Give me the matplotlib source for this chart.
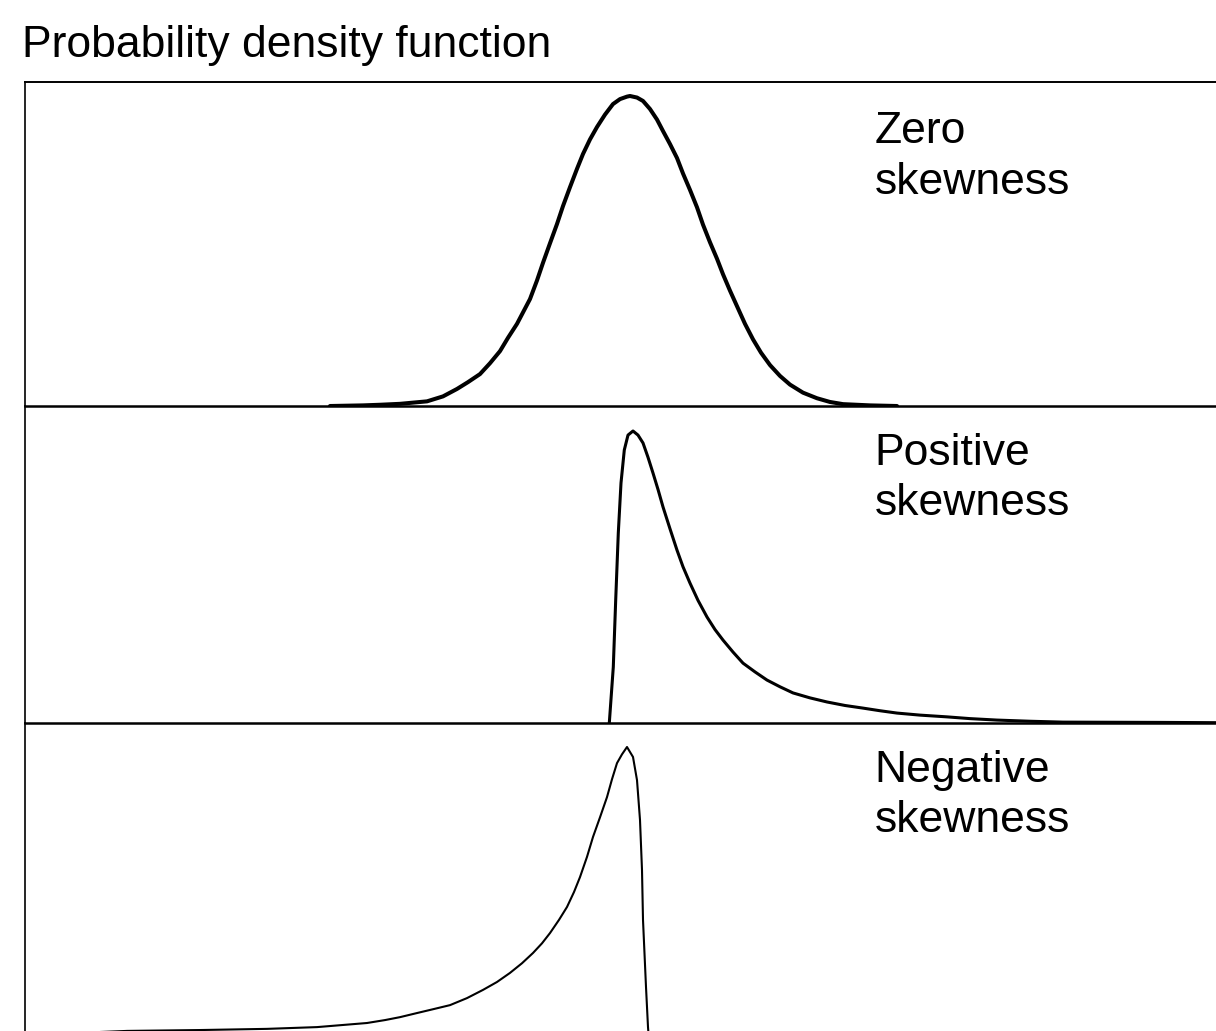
import matplotlib
matplotlib.use("Agg")
import matplotlib.pyplot as plt

plt.rcParams["font.family"] = ["Liberation Sans", "DejaVu Sans"]

# curves: x in arbitrary units (peak of the normal curve at 0),
# y as a fraction of each curve's own peak height
zero_x = [-3.00, -2.67, -2.50, -2.30, -2.03, -1.87, -1.73, -1.62, -1.50, -1.40,
          -1.30, -1.22, -1.13, -1.00, -0.93, -0.87, -0.80, -0.73, -0.67, -0.60,
          -0.53, -0.47, -0.40, -0.33, -0.25, -0.17, -0.10, -0.03, 0.00, 0.07,
          0.13, 0.20, 0.27, 0.33, 0.40, 0.47, 0.53, 0.60, 0.67, 0.73,
          0.80, 0.87, 0.93, 1.00, 1.07, 1.15, 1.23, 1.31, 1.40, 1.50,
          1.60, 1.73, 1.87, 2.00, 2.13, 2.40, 2.67]
zero_y = [0.000, 0.002, 0.004, 0.007, 0.015, 0.031, 0.055, 0.077, 0.103, 0.138,
          0.177, 0.220, 0.265, 0.345, 0.405, 0.462, 0.525, 0.587, 0.645, 0.706,
          0.765, 0.813, 0.860, 0.900, 0.940, 0.974, 0.990, 0.998, 1.000, 0.995,
          0.984, 0.958, 0.924, 0.887, 0.845, 0.800, 0.750, 0.697, 0.641, 0.585,
          0.528, 0.475, 0.425, 0.372, 0.322, 0.265, 0.215, 0.172, 0.132, 0.097,
          0.069, 0.043, 0.025, 0.013, 0.006, 0.002, 0.000]

pos_x = [-0.207, -0.167, -0.143, -0.117, -0.090, -0.057, -0.020, 0.030, 0.080, 0.130,
         0.180, 0.230, 0.280, 0.330, 0.400, 0.470, 0.530, 0.600, 0.680, 0.770,
         0.850, 0.930, 1.030, 1.130, 1.250, 1.370, 1.500, 1.630, 1.800, 1.970,
         2.150, 2.330, 2.500, 2.670, 2.900, 3.170, 3.400, 3.670, 4.000, 4.330,
         5.330, 5.900]
pos_y = [0.000, 0.192, 0.421, 0.651, 0.822, 0.935, 0.986, 1.000, 0.986, 0.959,
         0.910, 0.856, 0.800, 0.740, 0.665, 0.592, 0.535, 0.479, 0.420, 0.363,
         0.320, 0.284, 0.243, 0.205, 0.175, 0.147, 0.124, 0.103, 0.086, 0.072,
         0.060, 0.051, 0.042, 0.034, 0.027, 0.021, 0.015, 0.010, 0.006, 0.003,
         0.002, 0.001]

neg_x = [-6.05, -5.03, -4.30, -3.63, -3.13, -2.63, -2.45, -2.30, -2.13, -1.97,
         -1.80, -1.63, -1.47, -1.33, -1.20, -1.08, -0.97, -0.88, -0.80, -0.71,
         -0.63, -0.56, -0.50, -0.43, -0.37, -0.30, -0.23, -0.18, -0.13, -0.08,
         -0.03, 0.03, 0.07, 0.10, 0.12, 0.13, 0.16, 0.18, 0.19]
neg_y = [0.017, 0.031, 0.034, 0.038, 0.044, 0.058, 0.068, 0.078, 0.092, 0.105,
         0.119, 0.143, 0.171, 0.198, 0.229, 0.262, 0.297, 0.330, 0.365, 0.410,
         0.454, 0.505, 0.556, 0.625, 0.693, 0.760, 0.829, 0.890, 0.945, 0.975,
         1.000, 0.966, 0.887, 0.751, 0.580, 0.410, 0.181, 0.044, 0.000]

labels = ["Zero\nskewness", "Positive\nskewness", "Negative\nskewness"]
title = "Probability density function"

W, H = 1216, 1031
fig = plt.figure(figsize=(W / 100, H / 100), dpi=100)

left_px, right_px = 25, 1220
# (top, bottom) of each panel in pixels, the last one runs off the page
panels_px = [(82, 406), (406, 723), (723, 1040)]
curves = [(zero_x, zero_y, 2.9), (pos_x, pos_y, 2.2), (neg_x, neg_y, 1.5)]
peak_px = [310, 292, 293]

for i, ((top, bot), (xs, ys, lw), lab) in enumerate(zip(panels_px, curves, labels)):
    ax = fig.add_axes([left_px / W, 1 - bot / H,
                       (right_px - left_px) / W, (bot - top) / H])
    ax.patch.set_visible(False)
    ax.plot(xs, ys, color="black", lw=lw, solid_capstyle="round",
            solid_joinstyle="round")
    ax.set_xlim((left_px - 630) / 100, (right_px - 630) / 100)
    ax.set_ylim(0, (bot - top) / peak_px[i])
    ax.set_xticks([])
    ax.set_yticks([])
    ax.spines["right"].set_visible(False)
    ax.spines["left"].set_linewidth(1.2)
    ax.spines["bottom"].set_linewidth(1.8)
    ax.spines["top"].set_linewidth(1.4)
    if i > 0:
        ax.spines["top"].set_visible(False)
    # va="baseline" on a two-line text puts the last line on y
    ax.text(0.711, 0.655, lab, transform=ax.transAxes, fontsize=32,
            ha="left", va="baseline", linespacing=1.3)

fig.text(22 / W, 1 - 57 / H, title, fontsize=32, ha="left", va="baseline")

fig.savefig("out.png", dpi=100, facecolor="white")
